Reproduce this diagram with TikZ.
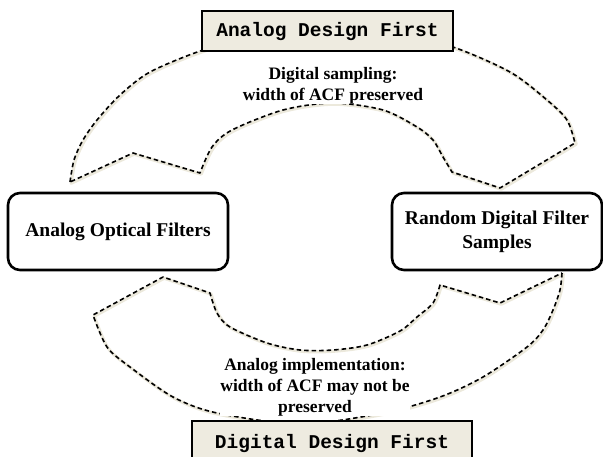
\documentclass[tikz,border=0pt]{standalone}
\usepackage{fontspec}
\setmainfont{Liberation Serif}
\setmonofont{Liberation Mono}
\definecolor{boxbeige}{HTML}{EEEBE0}
\definecolor{shadowbeige}{HTML}{ECE9DC}

\begin{document}
\begin{tikzpicture}[x=1pt, y=-1pt, every node/.style={inner sep=2pt}]
	\tikzset{
		filterbox/.style={draw, fill=white, line width=2.6pt, rounded corners=12pt,
			minimum height=77pt, align=center, font=\bfseries\fontsize{19.5}{24}\selectfont},
		designbox/.style={draw, fill=boxbeige, line width=2.6pt,
			font=\ttfamily\bfseries\fontsize{19.5}{22}\selectfont},
		flowlabel/.style={fill=white, inner sep=0pt, align=center,
			font=\bfseries\fontsize{17.5}{21}\selectfont},
		flowarrow/.style={draw=black, line width=1.6pt, dash pattern=on 4.5pt off 3pt, line join=round},
		flowshadow/.style={draw=shadowbeige, line width=3.2pt, line join=round, shift={(1.2,1.2)}}
	}
	\useasboundingbox (0,0) rectangle (603,456);
	% the two curved arrows, shadow first
	\foreach \sty in {flowshadow, flowarrow} {
		\draw[\sty] plot[smooth] coordinates {(70,182) (74,160) (83,140) (97,120) (120,95) (150,72)
				(203,50) (260,35) (330,30) (400,35) (453,47) (510,72) (547,100) (567,120) (575,143)}
			-- (500,188)
			-- plot[smooth] coordinates {(452,172) (443,157) (433,140) (417,127) (383,110) (333,103)
				(283,110) (232,130) (212,147) (200,173)}
			-- (133,153) -- cycle;
		\draw[\sty] plot[smooth] coordinates {(562,273) (560,290) (553,310) (543,330) (527,347) (483,377)
				(440,397) (383,413) (300,424) (217,413) (173,397) (130,367) (107,347) (93,315)}
			-- (163,277)
			-- plot[smooth] coordinates {(210,293) (217,313) (230,327) (267,343) (300,350) (333,350)
				(367,345) (400,331) (417,317) (433,303) (440,285)}
			-- (500,303) -- cycle;
	}
	\node[filterbox, minimum width=220pt] (optical) at (118,231.5) {Analog Optical Filters};
	\node[filterbox, minimum width=210pt] (samples) at (497,231.5) {Random Digital Filter\\Samples};
	\node[designbox, minimum width=251pt, minimum height=40pt] (analogfirst) at (327.5,31) {Analog Design First};
	\node[designbox, minimum width=280pt, minimum height=44pt] (digitalfirst) at (332,443) {Digital Design First};
	\node[flowlabel] (sampling) at (333,86) {Digital sampling:\\width of ACF preserved};
	\node[flowlabel] (implement) at (315,387) {Analog implementation:\\width of ACF may not be\\preserved};
\end{tikzpicture}
\end{document}
